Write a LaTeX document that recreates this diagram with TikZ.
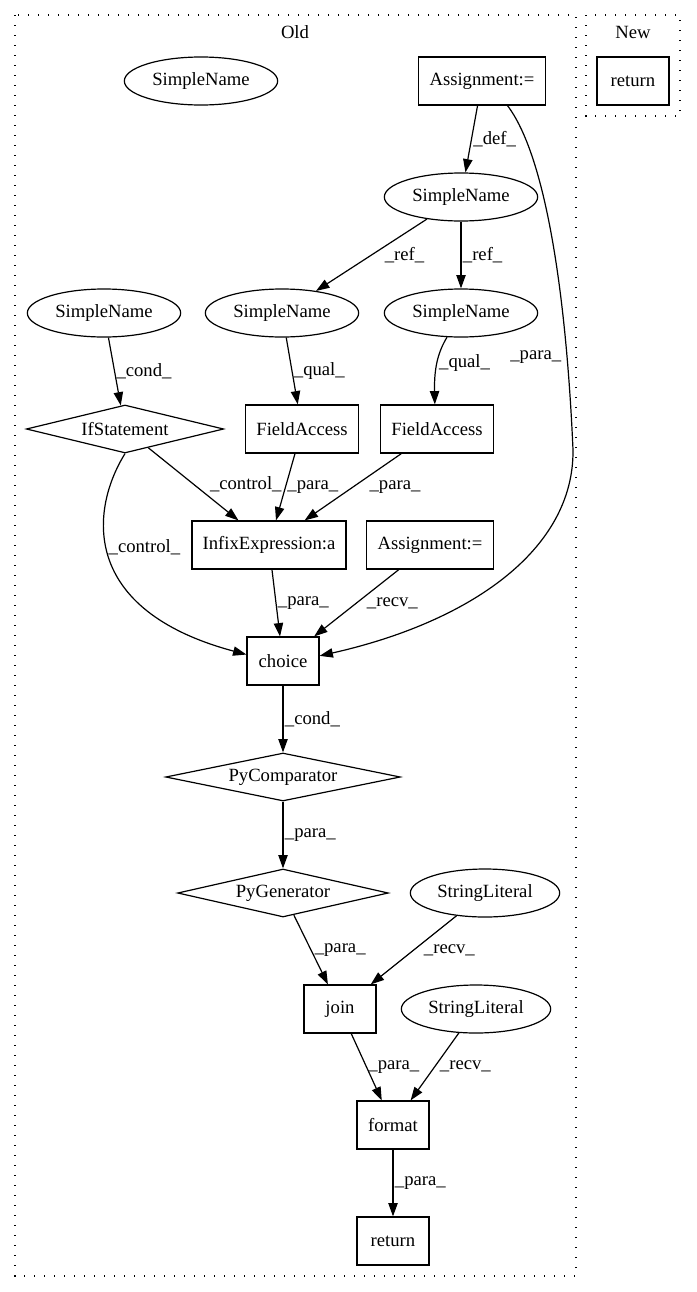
\documentclass[tikz,border=0pt]{standalone}
\usepackage{fontspec}
\setmainfont{Liberation Serif}
\usetikzlibrary{arrows.meta,shapes.geometric}

\begin{document}
\begin{tikzpicture}
[%%%%%%%%%%%%%%%%%%%%%%%%%%%%%%
x=0.75pt,y=-0.75pt,
font=\fontsize{14pt}{16pt}\selectfont,
box/.style={rectangle,draw=black,line width=0.9pt,minimum width=54pt,minimum height=36pt,inner xsep=8pt},
ellip/.style={ellipse,draw=black,line width=0.9pt,minimum width=115pt,minimum height=36pt,inner sep=0pt},
dia/.style={diamond,draw=black,line width=0.9pt,aspect=4,inner sep=0pt,minimum height=36pt},
edge/.style={-{Triangle[length=10pt,width=7pt]},line width=0.9pt},
lbl/.style={inner sep=1pt,anchor=west},
clus/.style={draw=black,line width=1pt,dash pattern=on 1pt off 6.5pt},
]%%%%%%%%%%%%%%%%%%%%%%%%%%%%%%

\useasboundingbox (0,0) rectangle (696,1292);

\draw[clus] (15,15) rectangle (576,1276);
\node (old) at (295,32){Old};
\draw[clus] (586,15) rectangle (680,116);
\node (new) at (633,32){New};

\node[box] (ret2) at (633,81){return};

\node[ellip] (sn0) at (201,81){SimpleName};
\node[box] (asg1) at (482,81){Assignment:=};
\node[ellip] (sn1) at (461,197){SimpleName};
\node[ellip] (sn2) at (104,313){SimpleName};
\node[ellip] (sn3) at (282,313){SimpleName};
\node[ellip] (sn4) at (461,313){SimpleName};
\node[dia,minimum width=148pt] (ifs) at (125,429){IfStatement};
\node[box] (fa1) at (302,429){FieldAccess};
\node[box] (fa2) at (437,429){FieldAccess};
\node[box] (infix) at (269,545){InfixExpression:a};
\node[box] (asg2) at (430,545){Assignment:=};
\node[box] (choice) at (283,661){choice};
\node[dia,minimum width=176pt] (pycmp) at (283,777){PyComparator};
\node[dia,minimum width=158pt] (pygen) at (283,893){PyGenerator};
\node[ellip,minimum width=112pt] (str1) at (485,893){StringLiteral};
\node[box] (join) at (340,1009){join};
\node[ellip,minimum width=112pt] (str2) at (476,1009){StringLiteral};
\node[box] (format) at (393,1125){format};
\node[box] (ret1) at (393,1241){return};

% edges
\draw[edge] (asg1) -- node[lbl]{\_def\_} (sn1);
\draw[edge] (asg1.-44) .. controls (545,155) and (566,290) .. (573,450) node[lbl,pos=0.8,anchor=east,xshift=-3pt]{\_para\_}
 .. controls (574,550) and (470,622) .. (choice.8);
\draw[edge] (sn1) -- node[lbl,xshift=8.6pt]{\_ref\_} (sn3);
\draw[edge] (sn1) -- node[lbl]{\_ref\_} (sn4);
\draw[edge] (sn2) -- node[lbl]{\_cond\_} (ifs);
\draw[edge] (sn3) -- node[lbl]{\_qual\_} (fa1);
\draw[edge] (sn4.-120) .. controls (438,352) and (434,368) .. (fa2.95) node[lbl,pos=0.5]{\_qual\_};
\draw[edge] (ifs) -- node[lbl,xshift=11pt]{\_control\_} (infix);
\draw[edge] (ifs.south) .. controls (90,510) and (80,610) .. (choice.170) node[lbl,pos=0.45]{\_control\_};
\draw[edge] (fa1) -- node[lbl]{\_para\_} (infix);
\draw[edge] (fa2) -- node[lbl,xshift=11pt]{\_para\_} (infix);
\draw[edge] (infix) -- node[lbl]{\_para\_} (choice);
\draw[edge] (asg2) -- node[lbl,xshift=6.4pt]{\_recv\_} (choice);
\draw[edge] (choice) -- node[lbl]{\_cond\_} (pycmp);
\draw[edge] (pycmp) -- node[lbl]{\_para\_} (pygen);
\draw[edge] (pygen) -- node[lbl,xshift=1.5pt]{\_para\_} (join);
\draw[edge] (str1) -- node[lbl,xshift=6.3pt]{\_recv\_} (join);
\draw[edge] (join) -- node[lbl]{\_para\_} (format);
\draw[edge] (str2) -- node[lbl,xshift=2.5pt]{\_recv\_} (format);
\draw[edge] (format) -- node[lbl]{\_para\_} (ret1);
\end{tikzpicture}
\end{document}
